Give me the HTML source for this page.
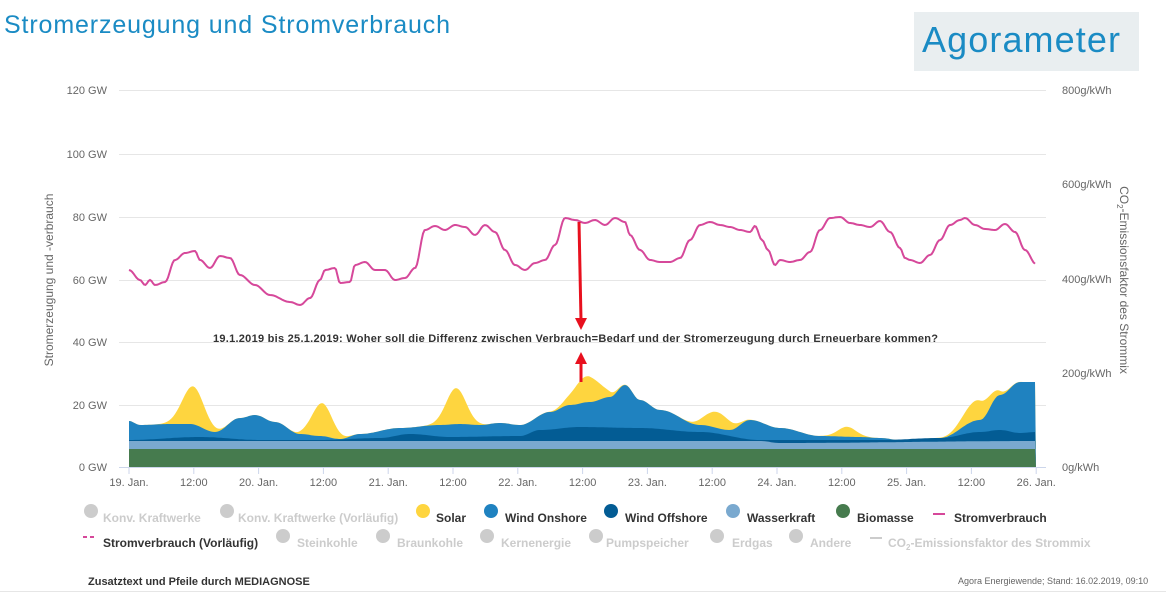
<!DOCTYPE html>
<html><head><meta charset="utf-8"><style>
body{margin:0;width:1166px;height:593px;background:#fff;overflow:hidden;font-family:"Liberation Sans",sans-serif}
</style></head><body>
<svg id="s" width="1166" height="593" xmlns="http://www.w3.org/2000/svg" font-family="Liberation Sans, sans-serif">
<text x="4" y="33" font-size="25" fill="#1a8bc4" textLength="446">Stromerzeugung und Stromverbrauch</text>
<rect x="914" y="12" width="225" height="59" fill="#e9eef0"/>
<text x="922" y="52" font-size="36" fill="#1a8bc4" textLength="198">Agorameter</text>
<g stroke="#e6e6e6" stroke-width="1">
<line x1="119" x2="1046" y1="90.5" y2="90.5"/><line x1="119" x2="1046" y1="154.5" y2="154.5"/>
<line x1="119" x2="1046" y1="217.5" y2="217.5"/><line x1="119" x2="1046" y1="280.5" y2="280.5"/>
<line x1="119" x2="1046" y1="342.5" y2="342.5"/><line x1="119" x2="1046" y1="405.5" y2="405.5"/>
</g>
<g font-size="11" fill="#666" text-anchor="end">
<text x="107" y="94">120 GW</text><text x="107" y="158">100 GW</text><text x="107" y="221">80 GW</text>
<text x="107" y="284">60 GW</text><text x="107" y="346">40 GW</text><text x="107" y="409">20 GW</text><text x="107" y="471">0 GW</text>
</g>
<g font-size="11" fill="#666">
<text x="1062" y="94">800g/kWh</text><text x="1062" y="188">600g/kWh</text><text x="1062" y="283">400g/kWh</text>
<text x="1062" y="377">200g/kWh</text><text x="1062" y="471">0g/kWh</text>
</g>
<text transform="translate(53,280) rotate(-90)" font-size="12" fill="#666" text-anchor="middle">Stromerzeugung und -verbrauch</text>
<text transform="translate(1120,280) rotate(90)" font-size="12" fill="#666" text-anchor="middle">CO<tspan font-size="8" dy="3">2</tspan><tspan dy="-3">-Emissionsfaktor des Strommix</tspan></text>
<g id="areas"></g>
<line x1="119" x2="1046" y1="467.5" y2="467.5" stroke="#ccd6eb"/>
<g id="ticks" stroke="#ccd6eb"></g>
<g font-size="11" fill="#666" text-anchor="middle" id="xl"></g>
<polyline id="dem" fill="none" stroke="#d6489a" stroke-width="2"/>
<text x="213" y="342" font-size="11" font-weight="bold" fill="#333" textLength="725">19.1.2019 bis 25.1.2019: Woher soll die Differenz zwischen Verbrauch=Bedarf und der Stromerzeugung durch Erneuerbare kommen?</text>
<line x1="579" y1="222" x2="581" y2="320" stroke="#e8101e" stroke-width="3"/>
<polygon points="575,318 587,318 581,330" fill="#e8101e"/>
<line x1="581" y1="382" x2="581" y2="362" stroke="#e8101e" stroke-width="3"/>
<polygon points="575,364 587,364 581,352" fill="#e8101e"/>
<g font-size="12" font-weight="bold">
<circle cx="91" cy="511" r="7" fill="#ccc"/><text x="103" y="522" fill="#ccc">Konv. Kraftwerke</text>
<circle cx="227" cy="511" r="7" fill="#ccc"/><text x="238" y="522" fill="#ccc">Konv. Kraftwerke (Vorläufig)</text>
<circle cx="423" cy="511" r="7" fill="#fed53f"/><text x="436" y="522" fill="#333">Solar</text>
<circle cx="491" cy="511" r="7" fill="#1f82c0"/><text x="505" y="522" fill="#333">Wind Onshore</text>
<circle cx="611" cy="511" r="7" fill="#035c94"/><text x="625" y="522" fill="#333">Wind Offshore</text>
<circle cx="733" cy="511" r="7" fill="#7aa9cf"/><text x="747" y="522" fill="#333">Wasserkraft</text>
<circle cx="843" cy="511" r="7" fill="#467b4e"/><text x="857" y="522" fill="#333">Biomasse</text>
<line x1="933" x2="945" y1="514" y2="514" stroke="#d6489a" stroke-width="2"/><text x="954" y="522" fill="#333">Stromverbrauch</text>
<line x1="83" x2="95" y1="537" y2="537" stroke="#d6489a" stroke-width="2" stroke-dasharray="4,3"/><text x="103" y="547" fill="#333">Stromverbrauch (Vorläufig)</text>
<circle cx="283" cy="536" r="7" fill="#ccc"/><text x="297" y="547" fill="#ccc">Steinkohle</text>
<circle cx="383" cy="536" r="7" fill="#ccc"/><text x="397" y="547" fill="#ccc">Braunkohle</text>
<circle cx="487" cy="536" r="7" fill="#ccc"/><text x="501" y="547" fill="#ccc">Kernenergie</text>
<circle cx="596" cy="536" r="7" fill="#ccc"/><text x="606" y="547" fill="#ccc">Pumpspeicher</text>
<circle cx="717" cy="536" r="7" fill="#ccc"/><text x="732" y="547" fill="#ccc">Erdgas</text>
<circle cx="796" cy="536" r="7" fill="#ccc"/><text x="810" y="547" fill="#ccc">Andere</text>
<line x1="870" x2="882" y1="538" y2="538" stroke="#ccc" stroke-width="2"/><text x="888" y="547" fill="#ccc">CO<tspan font-size="8" dy="3">2</tspan><tspan dy="-3">-Emissionsfaktor des Strommix</tspan></text>
</g>
<text x="88" y="585" font-size="11" font-weight="bold" fill="#333">Zusatztext und Pfeile durch MEDIAGNOSE</text>
<text x="958" y="584" font-size="9" fill="#666">Agora Energiewende; Stand: 16.02.2019, 09:10</text>
<line x1="0" x2="1166" y1="591.5" y2="591.5" stroke="#e6e6e6"/>
</svg>
<script>
function interp(pts,x){for(let i=0;i<pts.length-1;i++){if(x>=pts[i][0]&&x<=pts[i+1][0]){let t=(x-pts[i][0])/(pts[i+1][0]-pts[i][0]);t=(1-Math.cos(Math.PI*t))/2;return pts[i][1]+t*(pts[i+1][1]-pts[i][1]);}}return pts[pts.length-1][1];}
const off=[[129,440],[200,437],[260,440],[320,440],[380,438],[410,434],[450,437],[520,436],[540,430],[580,427],[640,428],[700,432],[760,440],[820,440],[880,440],[940,438],[980,432],[1000,430],[1020,433],[1036,432]];
const on=[[129,421],[140,425],[170,424],[190,424],[215,432],[240,418],[255,415],[275,422],[300,434],[320,436],[340,439],[360,434],[400,428],[440,425],[460,424],[480,425],[500,423],[520,425],[550,412],[570,405],[590,402],[610,397],[625,385],[640,400],[660,410],[700,425],[730,430],[750,420],[780,428],[820,436],[860,437],[880,438],[900,440],[940,438],[980,420],[1000,395],[1020,382],[1036,382]];
const sol=[[193,38,11],[322,33,10],[456,36,10],[587,26,13],[717,16,12],[847,10,9],[977,20,13]];
const wat=[[129,441],[760,441],[780,443],[1036,441]];
const bio=[[129,449],[1036,449]];
function topSolar(x){let y=interp(on,x);let b=0;for(const s of sol){b+=s[1]*Math.exp(-((x-s[0])**2)/(2*s[2]*s[2]));}return y-b;}
function path(f){let d="M129,467";for(let x=129;x<=1036;x+=2)d+=` L${x},${f(x).toFixed(1)}`;d+=" L1036,467 Z";return d;}
const g=document.getElementById('areas');
function add(f,c){const p=document.createElementNS("http://www.w3.org/2000/svg","path");p.setAttribute("d",path(f));p.setAttribute("fill",c);g.appendChild(p);}
add(topSolar,"#fed53f");
add(x=>interp(on,x),"#1f82c0");
add(x=>interp(off,x),"#035c94");
add(x=>interp(wat,x),"#7aa9cf");
add(x=>interp(bio,x),"#467b4e");
const dem=[[129,270],[140,280],[145,285],[150,280],[155,285],[165,282],[175,260],[185,253],[195,251],[200,260],[210,268],[220,256],[230,258],[240,275],[255,285],[270,295],[290,302],[300,305],[310,298],[320,280],[325,270],[335,268],[340,283],[350,282],[355,265],[365,262],[375,270],[385,270],[395,280],[405,278],[415,268],[425,230],[435,226],[445,230],[455,225],[465,227],[475,235],[485,225],[495,232],[505,250],[515,265],[525,270],[535,263],[545,260],[555,245],[565,218],[575,220],[585,223],[595,220],[605,225],[615,218],[625,222],[630,235],[640,250],[650,260],[660,262],[670,262],[680,258],[690,240],[700,225],[710,222],[720,225],[730,227],[740,230],[750,232],[755,226],[762,240],[768,250],[775,265],[780,260],[790,262],[800,260],[810,252],[820,230],[830,218],[840,217],[850,223],[860,225],[870,227],[880,221],[890,232],[900,248],[905,258],[910,260],[920,263],[930,255],[940,240],[950,225],[960,220],[965,218],[975,225],[985,229],[995,230],[1005,224],[1015,232],[1025,250],[1036,264]];
let pts="";for(let x=129;x<=1036;x+=1.5)pts+=`${x},${interp(dem,x).toFixed(1)} `;
document.getElementById('dem').setAttribute("points",pts);
const labs=["19. Jan.","12:00","20. Jan.","12:00","21. Jan.","12:00","22. Jan.","12:00","23. Jan.","12:00","24. Jan.","12:00","25. Jan.","12:00","26. Jan."];
const tk=document.getElementById('ticks'),xl=document.getElementById('xl');
labs.forEach((l,i)=>{const x=129+i*64.8;
const ln=document.createElementNS("http://www.w3.org/2000/svg","line");ln.setAttribute("x1",x);ln.setAttribute("x2",x);ln.setAttribute("y1",467);ln.setAttribute("y2",474);tk.appendChild(ln);
const t=document.createElementNS("http://www.w3.org/2000/svg","text");t.setAttribute("x",x);t.setAttribute("y",486);t.textContent=l;xl.appendChild(t);});
</script>
</body></html>
